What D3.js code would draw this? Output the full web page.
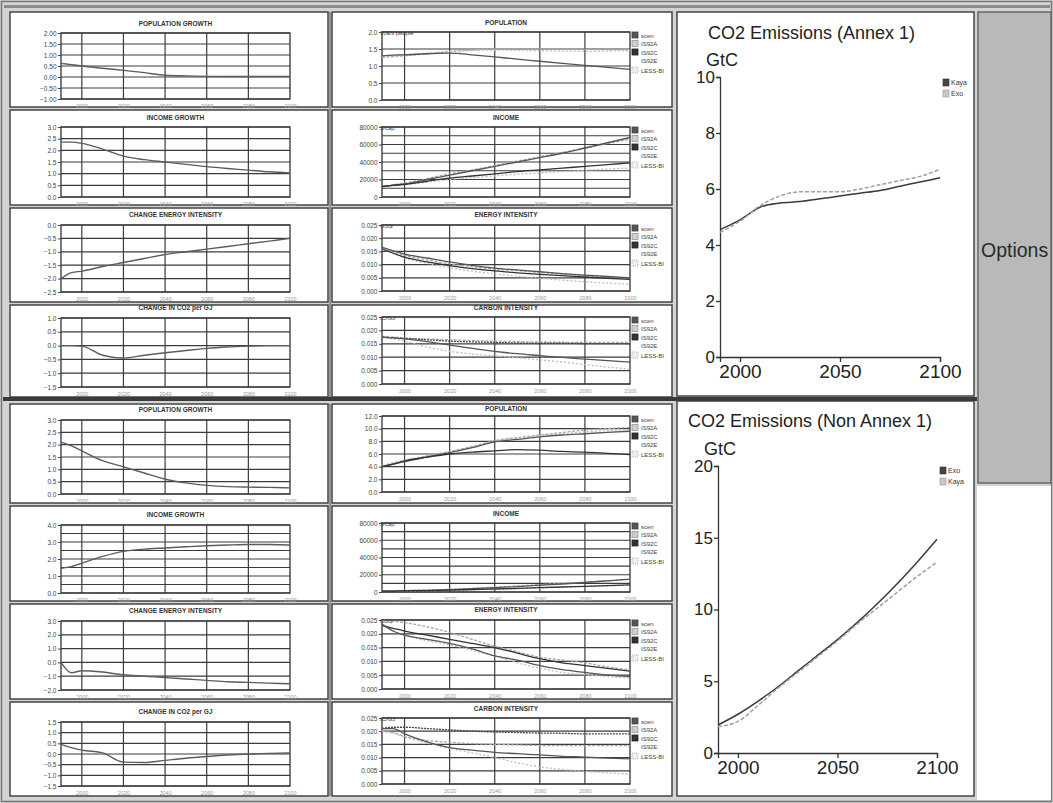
<!DOCTYPE html>
<html><head><meta charset="utf-8">
<script src="https://cdn.jsdelivr.net/npm/d3@7"></script>
<style>
html,body{margin:0;padding:0;background:#fff;}
svg{display:block;font-family:"Liberation Sans",Arial,Helvetica,sans-serif;}
</style></head>
<body><svg id="c" width="1053" height="803"></svg>
<script>
// ---------------- DATA ----------------
const years = [1990,1995,2000,2010,2020,2030,2040,2050,2060,2070,2080,2090,2100];
const yearsBig = [1990,2000,2010,2020,2030,2040,2050,2060,2070,2080,2090,2100];
const gridYears = [2000,2020,2040,2060,2080];
const xTickYears = [2000,2020,2040,2060,2080,2100];
const scenarioNames = ["scen","IS92A","IS92C","IS92E","LESS-BI"];

// Annex 1 — growth rates (%/yr)
const popGrowthA1    = [0.62,0.56,0.50,0.40,0.30,0.20,0.08,0.05,0.03,0.02,0.02,0.02,0.02];
const incomeGrowthA1 = [2.35,2.35,2.30,2.05,1.75,1.60,1.50,1.40,1.30,1.22,1.15,1.08,1.03];
const changeEIA1     = [-2.0,-1.78,-1.72,-1.55,-1.40,-1.25,-1.10,-1.00,-0.90,-0.80,-0.70,-0.60,-0.50];
const changeCO2A1    = [0.0,0.0,-0.02,-0.35,-0.45,-0.35,-0.26,-0.18,-0.10,-0.05,-0.02,0.0,0.0];
// Annex 1 — levels by scenario
const popA1_scen  = [1.30,1.32,1.33,1.36,1.38,1.33,1.27,1.20,1.14,1.08,1.02,0.96,0.90];
const popA1_a     = [1.25,1.28,1.30,1.36,1.42,1.47,1.50,1.50,1.50,1.50,1.49,1.48,1.48];
const popA1_less  = [1.28,1.31,1.33,1.38,1.43,1.46,1.47,1.46,1.45,1.44,1.43,1.44,1.45];
const incA1_scen  = [12000,13500,15000,20000,25000,30000,35000,40000,45000,50000,56000,62000,68000];
const incA1_a     = [12000,14000,16000,21000,26500,31000,36000,41000,46000,51000,56000,61000,66000];
const incA1_c     = [12000,13200,14500,18000,21500,24000,26500,29000,31000,33000,35000,37000,39000];
const incA1_less  = [12000,13000,14000,17000,20000,22000,24000,26000,27500,29000,30500,32000,33000];
const eiA1_scen   = [0.0165,0.0152,0.0140,0.0125,0.0110,0.0097,0.0087,0.0080,0.0073,0.0066,0.0060,0.0055,0.0050];
const eiA1_a      = [0.0160,0.0147,0.0135,0.0118,0.0103,0.0092,0.0083,0.0077,0.0070,0.0064,0.0058,0.0053,0.0048];
const eiA1_c      = [0.0160,0.0143,0.0128,0.0110,0.0096,0.0085,0.0076,0.0069,0.0063,0.0058,0.0053,0.0048,0.0044];
const eiA1_less   = [0.0160,0.0142,0.0125,0.0105,0.0088,0.0075,0.0065,0.0056,0.0048,0.0041,0.0035,0.0030,0.0025];
const ciA1_scen   = [0.0175,0.0172,0.0168,0.0158,0.0145,0.0133,0.0122,0.0113,0.0106,0.0099,0.0093,0.0087,0.0082];
const ciA1_a      = [0.0178,0.0175,0.0172,0.0168,0.0165,0.0162,0.0160,0.0158,0.0157,0.0156,0.0155,0.0155,0.0155];
const ciA1_c      = [0.0175,0.0172,0.0170,0.0165,0.0160,0.0157,0.0155,0.0153,0.0152,0.0152,0.0151,0.0151,0.0150];
const ciA1_less   = [0.0175,0.0168,0.0160,0.0138,0.0122,0.0112,0.0105,0.0098,0.0090,0.0082,0.0072,0.0063,0.0055];

// Non Annex 1 — growth rates
const popGrowthNA    = [2.10,1.95,1.75,1.35,1.10,0.85,0.60,0.45,0.35,0.30,0.28,0.27,0.25];
const incomeGrowthNA = [1.45,1.55,1.75,2.15,2.45,2.58,2.65,2.72,2.78,2.82,2.85,2.85,2.82];
const changeEINA     = [0.0,-0.75,-0.60,-0.70,-0.90,-1.00,-1.10,-1.20,-1.30,-1.40,-1.45,-1.50,-1.55];
const changeCO2NA    = [0.45,0.30,0.18,0.05,-0.38,-0.40,-0.30,-0.20,-0.12,-0.05,0.0,0.03,0.05];
// Non Annex 1 — levels by scenario
const popNA_scen  = [4.0,4.4,4.8,5.5,6.2,7.0,7.9,8.3,8.7,9.0,9.2,9.4,9.6];
const popNA_a     = [4.1,4.6,5.0,5.7,6.4,7.2,8.1,8.6,9.0,9.4,9.8,10.0,10.2];
const popNA_c     = [4.0,4.4,4.9,5.5,6.0,6.3,6.5,6.7,6.6,6.4,6.3,6.1,5.9];
const popNA_less  = [4.1,4.5,4.9,5.6,6.3,7.1,8.0,8.5,8.9,9.2,9.5,9.7,9.9];
const incNA_scen  = [1000,1100,1500,2000,2800,3800,5000,6300,7800,9300,11000,13000,15000];
const incNA_a     = [1000,1100,1500,2200,3000,4200,5500,7000,8500,10000,11500,13000,14500];
const incNA_c     = [1000,1050,1300,1700,2200,2800,3500,4200,5000,5800,6600,7400,8200];
const incNA_less  = [1000,1050,1300,1600,2000,2500,3200,3900,4700,5500,6300,7200,8000];
const eiNA_scen   = [0.0235,0.0210,0.0195,0.0180,0.0165,0.0145,0.0120,0.0105,0.0085,0.0070,0.0060,0.0050,0.0045];
const eiNA_a      = [0.0245,0.0245,0.0240,0.0225,0.0205,0.0180,0.0155,0.0135,0.0115,0.0105,0.0095,0.0080,0.0070];
const eiNA_c      = [0.0230,0.0220,0.0210,0.0195,0.0180,0.0165,0.0150,0.0130,0.0110,0.0095,0.0085,0.0075,0.0065];
const eiNA_less   = [0.0230,0.0210,0.0195,0.0175,0.0160,0.0140,0.0120,0.0095,0.0075,0.0060,0.0052,0.0045,0.0040];
const ciNA_scen   = [0.0210,0.0210,0.0190,0.0160,0.0138,0.0128,0.0120,0.0115,0.0110,0.0105,0.0102,0.0098,0.0095];
const ciNA_a      = [0.0210,0.0215,0.0215,0.0210,0.0205,0.0200,0.0197,0.0195,0.0193,0.0192,0.0190,0.0190,0.0190];
const ciNA_c      = [0.0200,0.0195,0.0180,0.0165,0.0158,0.0153,0.0150,0.0148,0.0146,0.0145,0.0145,0.0145,0.0145];
const ciNA_less   = [0.0200,0.0192,0.0178,0.0155,0.0135,0.0118,0.0100,0.0080,0.0065,0.0055,0.0048,0.0042,0.0038];

// CO2 emissions (GtC)
const kayaA1 = [4.55,4.9,5.35,5.5,5.55,5.65,5.75,5.85,5.95,6.1,6.25,6.4];
const exoA1  = [4.45,4.85,5.4,5.75,5.9,5.9,5.9,6.0,6.15,6.3,6.45,6.7];
const exoNA  = [1.95,2.7,3.6,4.6,5.7,6.8,7.9,9.1,10.4,11.8,13.3,14.9];
const kayaNA = [1.85,2.2,3.3,4.5,5.6,6.7,7.8,9.0,10.1,11.2,12.3,13.3];

// tick arrays
const ticksPopGrowthA1 = [-1,-0.5,0,0.5,1,1.5,2];
const ticksHalf0to3 = [0,0.5,1,1.5,2,2.5,3];
const ticksCEIA1 = [-2.5,-2,-1.5,-1,-0.5,0];
const ticksCO2A1 = [-1.5,-1,-0.5,0,0.5,1];
const gridInc4 = [0,0.5,1,1.5,2,2.5,3,3.5,4];
const ticksInc4 = [0,1,2,3,4];
const ticksCEINA = [-2,-1,0,1,2,3];
const ticksCO2NA = [-1.5,-1,-0.5,0,0.5,1,1.5];
const ticksPopA1 = [0,0.5,1,1.5,2];
const gridIncome = [0,10000,20000,30000,40000,50000,60000,70000,80000];
const ticksIncome = [0,20000,40000,60000,80000];
const ticksIntensity = [0,0.005,0.01,0.015,0.02,0.025];
const ticksPopNA = [0,2,4,6,8,10,12];
const ticksA1Big = [0,2,4,6,8,10];
const ticksNABig = [0,5,10,15,20];
const xTicksBig = [2000,2050,2100];

// ---------------- DRAWING ----------------
const svg = d3.select("#c");
svg.append("rect").attr("width",1053).attr("height",803).attr("fill","#d4d4d4");
svg.append("rect").attr("x",1.5).attr("y",1.5).attr("width",1050).attr("height",800)
  .attr("fill","none").attr("stroke","#777").attr("stroke-width",1.5);
svg.append("rect").attr("x",4).attr("y",5).attr("width",1046).attr("height",3).attr("fill","#8a8a8a");

function panel(x,y,w,h){
  svg.append("rect").attr("x",x).attr("y",y).attr("width",w).attr("height",h)
    .attr("fill","#fff").attr("stroke","#444").attr("stroke-width",1.5);
}
const rowsTop = [[12,95],[110,95],[208,94],[305,92]];
const rowsBot = [[404,99],[506,95],[604,95],[702,94]];
rowsTop.concat(rowsBot).forEach(r=>{ panel(10,r[0],318,r[1]); panel(332,r[0],340,r[1]); });
panel(677,12,297,384);
panel(677,401,297,395);
svg.append("rect").attr("x",977).attr("y",486).attr("width",74).attr("height",314).attr("fill","#fff");
svg.append("rect").attr("x",3).attr("y",397).attr("width",974).attr("height",4).attr("fill","#3a3a3a");
[[12,385],[404,392]].forEach(s=>{
  svg.append("line").attr("x1",330).attr("x2",330).attr("y1",s[0]).attr("y2",s[0]+s[1]).attr("stroke","#555").attr("stroke-width",1);
});

// Options button
svg.append("rect").attr("x",978).attr("y",12).attr("width",73).attr("height",471)
  .attr("fill","#b9b9b9").attr("stroke","#666").attr("stroke-width",1.5);
svg.append("text").attr("x",981).attr("y",257).attr("font-size",19.5).attr("fill","#2a2a2a").text("Options");

const styles = {
  single:{stroke:"#5c5c5c",w:1.4,dash:null},
  scen:{stroke:"#555",w:1.3,dash:null},
  a:{stroke:"#a8a8a8",w:1.3,dash:"3,1.5"},
  c:{stroke:"#333",w:1.3,dash:null},
  cdot:{stroke:"#444",w:1.3,dash:"2,1"},
  less:{stroke:"#bdbdbd",w:1.3,dash:"2,2"}
};

function small(c){
  const g = svg.append("g");
  const x = d3.scaleLinear().domain([1990,2100]).range([c.l,c.r]);
  const y = d3.scaleLinear().domain(c.dom).range([c.b,c.t]);
  g.append("text").attr("x",(c.l+c.r)/2).attr("y",c.ty).attr("text-anchor","middle")
    .attr("font-size",6.5).attr("font-weight","bold").attr("fill","#333").text(c.title);
  (c.grid||c.ticks).forEach(v=>{
    g.append("line").attr("x1",c.l).attr("x2",c.r).attr("y1",y(v)).attr("y2",y(v))
      .attr("stroke","#3c3c3c").attr("stroke-width",1.2);
  });
  gridYears.forEach(v=>{
    g.append("line").attr("x1",x(v)).attr("x2",x(v)).attr("y1",c.t).attr("y2",c.b)
      .attr("stroke","#3c3c3c").attr("stroke-width",1.2);
  });
  g.append("rect").attr("x",c.l).attr("y",c.t).attr("width",c.r-c.l).attr("height",c.b-c.t)
    .attr("fill","none").attr("stroke","#333").attr("stroke-width",1.3);
  const ya = g.append("g").attr("transform",`translate(${c.l},0)`)
    .call(d3.axisLeft(y).tickValues(c.ticks).tickSize(3).tickFormat(d3.format(c.fmt)));
  ya.select(".domain").remove();
  ya.selectAll("text").attr("font-size",6.5).attr("fill","#444").attr("font-family","Liberation Sans,Arial,sans-serif").attr("dx",1.5);
  ya.selectAll("line").attr("stroke","#444");
  const xa = g.append("g").attr("transform",`translate(0,${c.b})`)
    .call(d3.axisBottom(x).tickValues(xTickYears).tickSize(0).tickFormat(d3.format("d")));
  xa.select(".domain").remove();
  xa.selectAll("text").attr("font-size",5.5).attr("fill","#999").attr("dy",6).attr("font-family","Liberation Sans,Arial,sans-serif");
  if(c.unit){
    g.append("text").attr("x",c.l-2).attr("y",c.t+2.5).attr("font-size",6).attr("fill","#444").text(c.unit);
  }
  const line = d3.line().x((d,i)=>x(years[i])).y(d=>y(d)).curve(d3.curveMonotoneX);
  c.series.forEach(s=>{
    const st = styles[s.st];
    g.append("path").datum(s.v).attr("d",line).attr("fill","none")
      .attr("stroke",st.stroke).attr("stroke-width",st.w).attr("stroke-dasharray",st.dash);
  });
  if(c.legend){
    const fills = ["#555","#cfcfcf","#333","#fff","#efefef"];
    const strokes = ["#444","#999","#222","#fff","#aaa"];
    const offs = [0,8.5,17,25.5,35];
    scenarioNames.forEach((n,i)=>{
      const yy = c.t+offs[i];
      g.append("rect").attr("x",c.r+2).attr("y",yy).attr("width",6).attr("height",6)
        .attr("fill",fills[i]).attr("stroke",strokes[i]).attr("stroke-width",0.8)
        .attr("stroke-dasharray",i===4?"1,1":null);
      g.append("text").attr("x",c.r+11).attr("y",yy+5.5).attr("font-size",6).attr("fill","#444").text(n);
    });
  }
}

const L = {l:61,r:290}, R = {l:382,r:630};
const cfgs = [
  {...L,t:33,b:99,ty:26,title:"POPULATION GROWTH",dom:[-1,2],ticks:ticksPopGrowthA1,fmt:".2f",series:[{v:popGrowthA1,st:"single"}]},
  {...L,t:127,b:197,ty:120,title:"INCOME GROWTH",dom:[0,3],ticks:ticksHalf0to3,fmt:".1f",series:[{v:incomeGrowthA1,st:"single"}]},
  {...L,t:225,b:292,ty:217,title:"CHANGE ENERGY INTENSITY",dom:[-2.5,0],ticks:ticksCEIA1,fmt:".1f",series:[{v:changeEIA1,st:"single"}]},
  {...L,t:318,b:387,ty:310,title:"CHANGE IN CO2 per GJ",dom:[-1.5,1],ticks:ticksCO2A1,fmt:".1f",series:[{v:changeCO2A1,st:"single"}]},
  {...L,t:420,b:494,ty:412,title:"POPULATION GROWTH",dom:[0,3],ticks:ticksHalf0to3,fmt:".1f",series:[{v:popGrowthNA,st:"single"}]},
  {...L,t:525,b:593,ty:517,title:"INCOME GROWTH",dom:[0,4],ticks:ticksInc4,grid:gridInc4,fmt:".1f",series:[{v:incomeGrowthNA,st:"single"}]},
  {...L,t:621,b:690,ty:613,title:"CHANGE ENERGY INTENSITY",dom:[-2,3],ticks:ticksCEINA,fmt:".1f",series:[{v:changeEINA,st:"single"}]},
  {...L,t:722,b:786,ty:714,title:"CHANGE IN CO2 per GJ",dom:[-1.5,1.5],ticks:ticksCO2NA,fmt:".1f",series:[{v:changeCO2NA,st:"single"}]},

  {...R,t:32,b:100,ty:25,title:"POPULATION",dom:[0,2],ticks:ticksPopA1,fmt:".1f",unit:"10E9 people",legend:true,
    series:[{v:popA1_a,st:"a"},{v:popA1_less,st:"less"},{v:popA1_scen,st:"scen"}]},
  {...R,t:127,b:197,ty:120,title:"INCOME",dom:[0,80000],ticks:ticksIncome,grid:gridIncome,fmt:"d",unit:"$/cap",legend:true,
    series:[{v:incA1_a,st:"a"},{v:incA1_less,st:"less"},{v:incA1_scen,st:"scen"},{v:incA1_c,st:"c"}]},
  {...R,t:225,b:291,ty:217,title:"ENERGY INTENSITY",dom:[0,0.025],ticks:ticksIntensity,fmt:".3f",unit:"GJ/$",legend:true,
    series:[{v:eiA1_a,st:"a"},{v:eiA1_less,st:"less"},{v:eiA1_scen,st:"scen"},{v:eiA1_c,st:"c"}]},
  {...R,t:317,b:384,ty:310,title:"CARBON INTENSITY",dom:[0,0.025],ticks:ticksIntensity,fmt:".3f",unit:"tC/GJ",legend:true,
    series:[{v:ciA1_a,st:"a"},{v:ciA1_less,st:"less"},{v:ciA1_c,st:"cdot"},{v:ciA1_scen,st:"scen"}]},
  {...R,t:416,b:492,ty:411,title:"POPULATION",dom:[0,12],ticks:ticksPopNA,fmt:".1f",legend:true,
    series:[{v:popNA_a,st:"a"},{v:popNA_less,st:"less"},{v:popNA_scen,st:"scen"},{v:popNA_c,st:"c"}]},
  {...R,t:523,b:592,ty:516,title:"INCOME",dom:[0,80000],ticks:ticksIncome,grid:gridIncome,fmt:"d",unit:"$/cap",legend:true,
    series:[{v:incNA_a,st:"a"},{v:incNA_less,st:"less"},{v:incNA_scen,st:"scen"},{v:incNA_c,st:"c"}]},
  {...R,t:620,b:689,ty:612,title:"ENERGY INTENSITY",dom:[0,0.025],ticks:ticksIntensity,fmt:".3f",unit:"GJ/$",legend:true,
    series:[{v:eiNA_a,st:"a"},{v:eiNA_less,st:"less"},{v:eiNA_c,st:"c"},{v:eiNA_scen,st:"scen"}]},
  {...R,t:718,b:784,ty:711,title:"CARBON INTENSITY",dom:[0,0.025],ticks:ticksIntensity,fmt:".3f",unit:"tC/GJ",legend:true,
    series:[{v:ciNA_c,st:"a"},{v:ciNA_less,st:"less"},{v:ciNA_a,st:"cdot"},{v:ciNA_scen,st:"scen"}]}
];
cfgs.forEach(small);

// big emission charts
function big(c){
  const g = svg.append("g");
  const x = d3.scaleLinear().domain([1990,2100]).range([c.l,c.r]);
  const y = d3.scaleLinear().domain(c.dom).range([c.b,c.t]);
  g.append("text").attr("x",c.tx).attr("y",c.ty).attr("font-size",18).attr("fill","#222").text(c.title);
  g.append("text").attr("x",c.l-14).attr("y",c.t-11).attr("font-size",18).attr("fill","#222").text("GtC");
  const ya = g.append("g").attr("transform",`translate(${c.l},0)`)
    .call(d3.axisLeft(y).tickValues(c.ticks).tickSize(4).tickPadding(1));
  ya.selectAll("text").attr("font-size",17).attr("fill","#222").attr("font-family","Liberation Sans,Arial,sans-serif");
  const xa = g.append("g").attr("transform",`translate(0,${c.b})`)
    .call(d3.axisBottom(x).tickValues(xTicksBig).tickSize(5).tickFormat(d3.format("d")).tickPadding(3));
  xa.selectAll("text").attr("font-size",19).attr("fill","#222").attr("font-family","Liberation Sans,Arial,sans-serif");
  [ya,xa].forEach(a=>{a.selectAll("line,path").attr("stroke","#333").attr("stroke-width",1.3);});
  const line = d3.line().x((d,i)=>x(yearsBig[i])).y(d=>y(d)).curve(d3.curveMonotoneX);
  c.series.forEach(s=>{
    g.append("path").datum(s.v).attr("d",line).attr("fill","none")
      .attr("stroke",s.dark?"#3a3a3a":"#a0a0a0").attr("stroke-width",1.5)
      .attr("stroke-dasharray",s.dark?null:"4,2");
  });
  c.series.forEach((s,i)=>{
    const yy = c.legY + i*11;
    g.append("rect").attr("x",c.r+3).attr("y",yy).attr("width",6).attr("height",7)
      .attr("fill",s.dark?"#444":"#c8c8c8").attr("stroke",s.dark?"#333":"#999").attr("stroke-width",0.6);
    g.append("text").attr("x",c.r+11).attr("y",yy+6).attr("font-size",7).attr("fill","#333").text(s.name);
  });
}
big({l:720,r:940,t:77,b:357,dom:[0,10],ticks:ticksA1Big,title:"CO2 Emissions (Annex 1)",tx:708,ty:39,legY:79,
  series:[{name:"Kaya",v:kayaA1,dark:true},{name:"Exo",v:exoA1,dark:false}]});
big({l:718,r:937,t:466,b:753,dom:[0,20],ticks:ticksNABig,title:"CO2 Emissions (Non Annex 1)",tx:688,ty:427,legY:467,
  series:[{name:"Exo",v:exoNA,dark:true},{name:"Kaya",v:kayaNA,dark:false}]});
</script></body></html>
